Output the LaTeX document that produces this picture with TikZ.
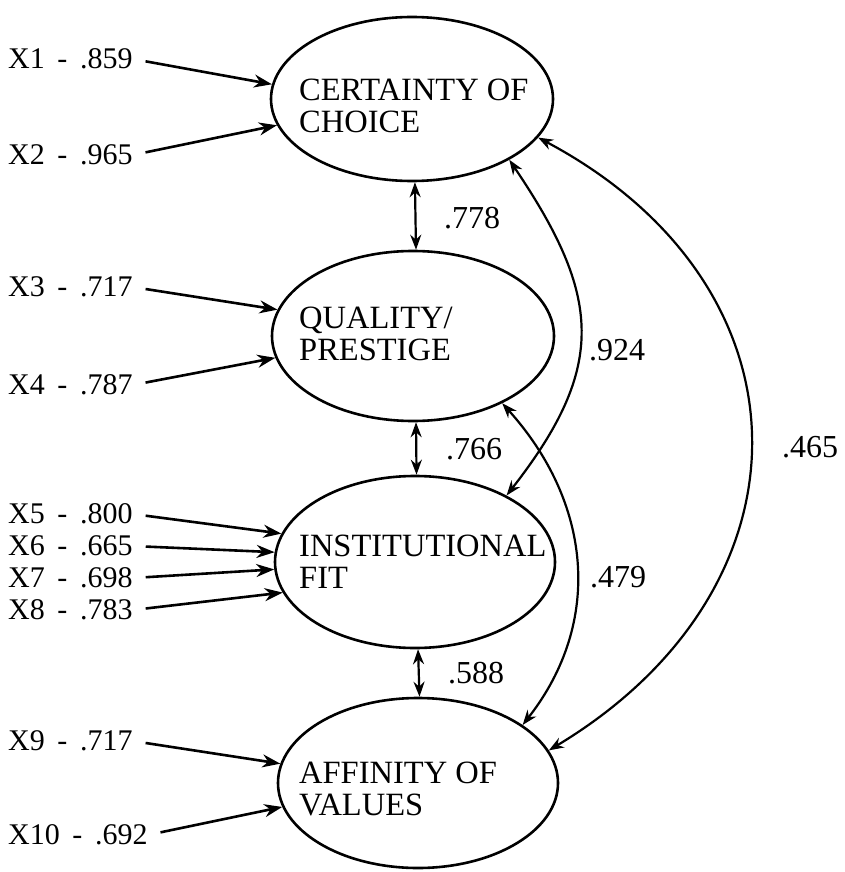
\documentclass[tikz,border=0pt]{standalone}
\usepackage{fontspec}
\setmainfont{Liberation Serif}
\usetikzlibrary{shapes.geometric,arrows.meta}
\newcommand\xlab[2]{#1\hspace{.42em}-\hspace{.42em}#2}
\begin{document}
\begin{tikzpicture}[x=1pt,y=1pt,
  lat/.style={draw, line width=2.6pt, ellipse, inner sep=0pt},
  ltext/.style={font=\fontsize{32.5}{32}\selectfont, inner sep=0pt, anchor=base west},
  obslabel/.style={font=\fontsize{30}{30}\selectfont, inner sep=0pt, anchor=west},
  clabel/.style={font=\fontsize{32}{32}\selectfont, inner sep=0pt},
  xarrow/.style={line width=2.6pt, -{Stealth[length=18pt,width=13pt]}, shorten <=13pt},
  corr/.style={line width=2.2pt, {Stealth[length=15pt,width=11pt]}-{Stealth[length=15pt,width=11pt]}},
]
\useasboundingbox (0,0) rectangle (844,-872);

% latent variables
\node[lat, minimum width=282pt, minimum height=164pt] (c1) at (412,-99) {};
\node[lat, minimum width=282pt, minimum height=170pt] (c2) at (413,-336) {};
\node[lat, minimum width=280pt, minimum height=172pt] (c3) at (415,-562) {};
\node[lat, minimum width=280pt, minimum height=170pt] (c4) at (418,-783) {};

\node[ltext] (t1a) at (299,-101) {CERTAINTY OF};
\node[ltext] (t1b) at (299,-132) {CHOICE};
\node[ltext] (t2a) at (299,-328) {QUALITY/};
\node[ltext] (t2b) at (299,-360) {PRESTIGE};
\node[ltext] (t3a) at (299,-556) {INSTITUTIONAL};
\node[ltext] (t3b) at (299,-588) {FIT};
\node[ltext] (t4a) at (299,-783) {AFFINITY OF};
\node[ltext] (t4b) at (299,-815) {VALUES};

% observed variable labels
\node[obslabel] (x1) at (8,-59) {\xlab{X1}{.859}};
\node[obslabel] (x2) at (8,-155) {\xlab{X2}{.965}};
\node[obslabel] (x3) at (8,-287) {\xlab{X3}{.717}};
\node[obslabel] (x4) at (8,-385) {\xlab{X4}{.787}};
\node[obslabel] (x5) at (8,-514) {\xlab{X5}{.800}};
\node[obslabel] (x6) at (8,-546) {\xlab{X6}{.665}};
\node[obslabel] (x7) at (8,-578) {\xlab{X7}{.698}};
\node[obslabel] (x8) at (8,-610) {\xlab{X8}{.783}};
\node[obslabel] (x9) at (8,-741) {\xlab{X9}{.717}};
\node[obslabel] (x10) at (8,-835) {\xlab{X10}{.692}};

\draw[xarrow] (x1.east) -- (c1.174);
\draw[xarrow] (x2.east) -- (c1.191);
\draw[xarrow] (x3.east) -- (c2.169);
\draw[xarrow] (x4.east) -- (c2.189);
\draw[xarrow] (x5.east) -- (c3.168);
\draw[xarrow] (x6.east) -- (c3.176);
\draw[xarrow] (x7.east) -- (c3.183);
\draw[xarrow] (x8.east) -- (c3.193);
\draw[xarrow] (x9.east) -- (c4.172);
\draw[xarrow] (x10.east) -- (c4.190);

% correlations
\draw[corr] (c1.-88) -- (c2.88);
\draw[corr] (c2.-88) -- (c3.89);
\draw[corr] (c3.-88) -- (c4.89);
\draw[corr] (c1.-32) to[out=-56, in=52, looseness=1.25] (c3.36);
\draw[corr] (c1.-17) to[out=-28, in=31, looseness=1.32] (c4.14);
\draw[corr] (c2.-37) to[out=-48, in=52, looseness=1.05] (c4.29);

\node[clabel] (l778) at (472,-218) {.778};
\node[clabel] (l766) at (474,-449) {.766};
\node[clabel] (l588) at (476,-673) {.588};
\node[clabel] (l924) at (617,-350) {.924};
\node[clabel] (l479) at (618,-577) {.479};
\node[clabel] (l465) at (810,-447) {.465};
\end{tikzpicture}
\end{document}
